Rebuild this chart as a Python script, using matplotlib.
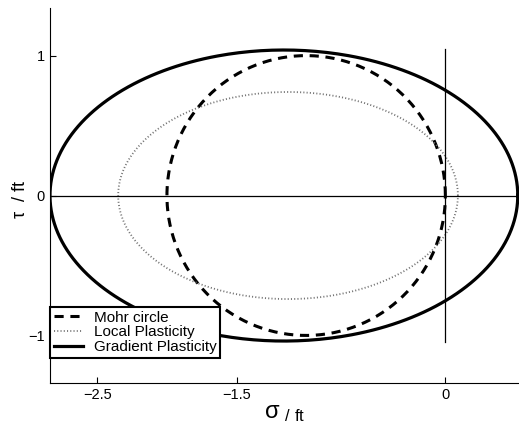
import numpy as np
import matplotlib.pyplot as plt

plt.rcParams['font.family'] = ['Liberation Sans', 'DejaVu Sans']
plt.rcParams['mathtext.default'] = 'regular'

# ellipses in (sigma/ft, tau/ft): centre, semi-axis sigma, semi-axis tau
names = ['Mohr circle', 'Local Plasticity', 'Gradient Plasticity']
centers = [-1.0, -1.13, -1.16]
semi_sigma = [1.0, 1.22, 1.68]
semi_tau = [1.0, 0.74, 1.04]

xticks = [-2.5, -1.5, 0]
yticks = [-1, 0, 1]

styles = [dict(color='black', ls=(0, (3, 2.2)), lw=2.2),
          dict(color='0.45', ls=(0, (0.6, 1.2)), lw=1.3),
          dict(color='black', ls='-', lw=2.3)]

fig = plt.figure(figsize=(5.19, 4.32), dpi=100)
ax = fig.add_axes([0.0963, 0.1134, 0.904, 0.868])

t = np.linspace(0, 2 * np.pi, 400)
for name, c, a, b, st in zip(names, centers, semi_sigma, semi_tau, styles):
    ax.plot(c + a * np.cos(t), b * np.sin(t), label=name, **st)

ax.axhline(0, color='black', lw=0.9)
ax.plot([0, 0], [-1.05, 1.05], color='black', lw=0.9)

ax.set_xlim(-2.84, 0.53)
ax.set_ylim(-1.34, 1.34)
ax.set_xticks(xticks)
ax.set_xticklabels(['\u22122.5', '\u22121.5', '0'])
ax.set_yticks(yticks)
ax.set_yticklabels(['\u22121', '0', '1'])
ax.tick_params(direction='in', length=4, labelsize=10.5)
ax.spines['top'].set_visible(False)
ax.spines['right'].set_visible(False)

ax.set_xlabel(r'$\sigma_{\ /\ ft}$', fontsize=17, labelpad=0)
ax.set_ylabel(r'$\tau$  / ft', fontsize=13)
ax.yaxis.set_label_coords(-0.045, 0.49)

leg = ax.legend(loc='lower left', bbox_to_anchor=(0.0, 0.067), fontsize=11,
                frameon=True, fancybox=False, framealpha=1, borderpad=0.25,
                labelspacing=0.05, handlelength=1.9, handletextpad=0.7,
                borderaxespad=0)
leg.get_frame().set_edgecolor('black')
leg.get_frame().set_linewidth(1.5)

fig.savefig('out.png', dpi=100)
